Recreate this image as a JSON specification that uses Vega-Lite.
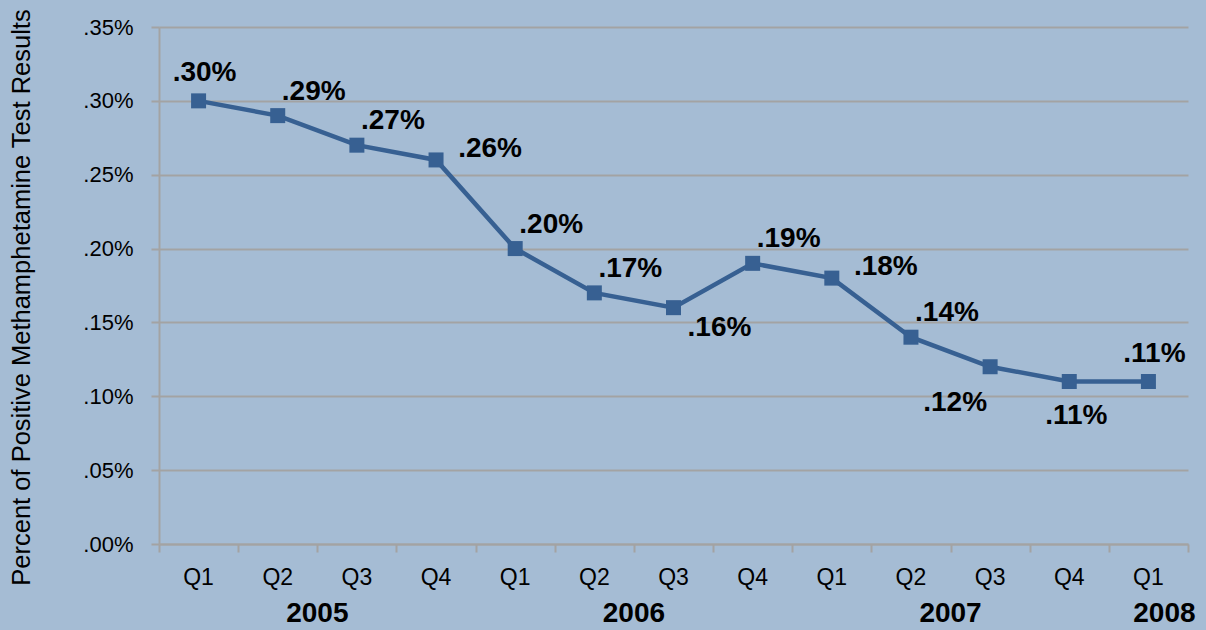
{
  "$schema": "https://vega.github.io/schema/vega-lite/v6.json",
  "autosize": "none",
  "width": 1029,
  "height": 517,
  "padding": {"left": 159, "top": 27, "right": 18, "bottom": 86},
  "background": "#a5bcd4",
  "config": {
    "view": {"stroke": null},
    "font": "Liberation Sans",
    "axis": {"labelFont": "Liberation Sans", "titleFont": "Liberation Sans", "labelColor": "#000000", "titleColor": "#000000"}
  },
  "data": {
    "values": [
      {"idx": 1, "year": "2005", "quarter": "Q1", "value": 0.30},
      {"idx": 2, "year": "2005", "quarter": "Q2", "value": 0.29},
      {"idx": 3, "year": "2005", "quarter": "Q3", "value": 0.27},
      {"idx": 4, "year": "2005", "quarter": "Q4", "value": 0.26},
      {"idx": 5, "year": "2006", "quarter": "Q1", "value": 0.20},
      {"idx": 6, "year": "2006", "quarter": "Q2", "value": 0.17},
      {"idx": 7, "year": "2006", "quarter": "Q3", "value": 0.16},
      {"idx": 8, "year": "2006", "quarter": "Q4", "value": 0.19},
      {"idx": 9, "year": "2007", "quarter": "Q1", "value": 0.18},
      {"idx": 10, "year": "2007", "quarter": "Q2", "value": 0.14},
      {"idx": 11, "year": "2007", "quarter": "Q3", "value": 0.12},
      {"idx": 12, "year": "2007", "quarter": "Q4", "value": 0.11},
      {"idx": 13, "year": "2008", "quarter": "Q1", "value": 0.11}
    ]
  },
  "transform": [
    {"calculate": "substring(format(datum.value, '.2f'), 1) + '%'", "as": "label"}
  ],
  "encoding": {
    "x": {
      "field": "idx", "type": "quantitative",
      "scale": {"domain": [0.5, 13.5], "nice": false, "zero": false},
      "axis": {
        "title": null, "labels": false, "grid": false,
        "values": [0.5, 1.5, 2.5, 3.5, 4.5, 5.5, 6.5, 7.5, 8.5, 9.5, 10.5, 11.5, 12.5, 13.5],
        "tickSize": 8, "tickColor": "#a3a3a3", "tickWidth": 2,
        "domainColor": "#a3a3a3", "domainWidth": 2
      }
    },
    "y": {
      "field": "value", "type": "quantitative",
      "scale": {"domain": [0, 0.35], "nice": false},
      "axis": {
        "title": "Percent of Positive Methamphetamine Test Results",
        "titleFontSize": 25.5, "titleFontWeight": "normal", "titlePadding": 48, "titleY": 270,
        "values": [0, 0.05, 0.1, 0.15, 0.2, 0.25, 0.3, 0.35],
        "labelExpr": "substring(format(datum.value, '.2f'), 1) + '%'",
        "labelFontSize": 22, "labelPadding": 18,
        "tickSize": 8, "tickColor": "#a3a3a3", "tickWidth": 2,
        "grid": true, "gridColor": "#a3a3a3", "gridWidth": 2,
        "domainColor": "#a3a3a3", "domainWidth": 2
      }
    }
  },
  "layer": [
    {"mark": {"type": "line", "color": "#376092", "strokeWidth": 4.5}},
    {"mark": {"type": "point", "shape": "square", "filled": true, "color": "#376092", "opacity": 1, "size": 225}},
    {
      "mark": {"type": "text", "fontSize": 23, "baseline": "middle", "align": "center", "dy": 34, "color": "#000000"},
      "encoding": {"y": {"datum": 0}, "text": {"field": "quarter"}}
    },
    {
      "transform": [
        {"joinaggregate": [{"op": "mean", "field": "idx", "as": "yearMid"}], "groupby": ["year"]},
        {"filter": "datum.quarter == 'Q1' && datum.year != '2008'"}
      ],
      "mark": {"type": "text", "fontSize": 28, "fontWeight": "bold", "baseline": "middle", "align": "center", "dy": 70, "color": "#000000"},
      "encoding": {
        "x": {"field": "yearMid", "type": "quantitative"},
        "y": {"datum": 0},
        "text": {"field": "year", "type": "nominal"}
      }
    },
    {
      "transform": [{"filter": "datum.year == '2008'"}],
      "mark": {"type": "text", "fontSize": 28, "fontWeight": "bold", "baseline": "middle", "align": "center", "dx": 16, "dy": 70, "color": "#000000"},
      "encoding": {
        "y": {"datum": 0},
        "text": {"field": "year", "type": "nominal"}
      }
    },
    {
      "transform": [{"filter": "indexof([1, 13], datum.idx) >= 0"}],
      "mark": {"type": "text", "fontSize": 28, "fontWeight": "bold", "baseline": "middle", "align": "center", "dx": 6, "dy": -28, "color": "#000000"},
      "encoding": {"text": {"field": "label"}}
    },
    {
      "transform": [{"filter": "indexof([2, 3, 5, 6, 8, 10], datum.idx) >= 0"}],
      "mark": {"type": "text", "fontSize": 28, "fontWeight": "bold", "baseline": "middle", "align": "center", "dx": 36, "dy": -24, "color": "#000000"},
      "encoding": {"text": {"field": "label"}}
    },
    {
      "transform": [{"filter": "indexof([4, 9], datum.idx) >= 0"}],
      "mark": {"type": "text", "fontSize": 28, "fontWeight": "bold", "baseline": "middle", "align": "center", "dx": 54, "dy": -11, "color": "#000000"},
      "encoding": {"text": {"field": "label"}}
    },
    {
      "transform": [{"filter": "datum.idx == 7"}],
      "mark": {"type": "text", "fontSize": 28, "fontWeight": "bold", "baseline": "middle", "align": "center", "dx": 46, "dy": 20, "color": "#000000"},
      "encoding": {"text": {"field": "label"}}
    },
    {
      "transform": [{"filter": "datum.idx == 11"}],
      "mark": {"type": "text", "fontSize": 28, "fontWeight": "bold", "baseline": "middle", "align": "center", "dx": -35, "dy": 36, "color": "#000000"},
      "encoding": {"text": {"field": "label"}}
    },
    {
      "transform": [{"filter": "datum.idx == 12"}],
      "mark": {"type": "text", "fontSize": 28, "fontWeight": "bold", "baseline": "middle", "align": "center", "dx": 7, "dy": 34, "color": "#000000"},
      "encoding": {"text": {"field": "label"}}
    }
  ]
}
